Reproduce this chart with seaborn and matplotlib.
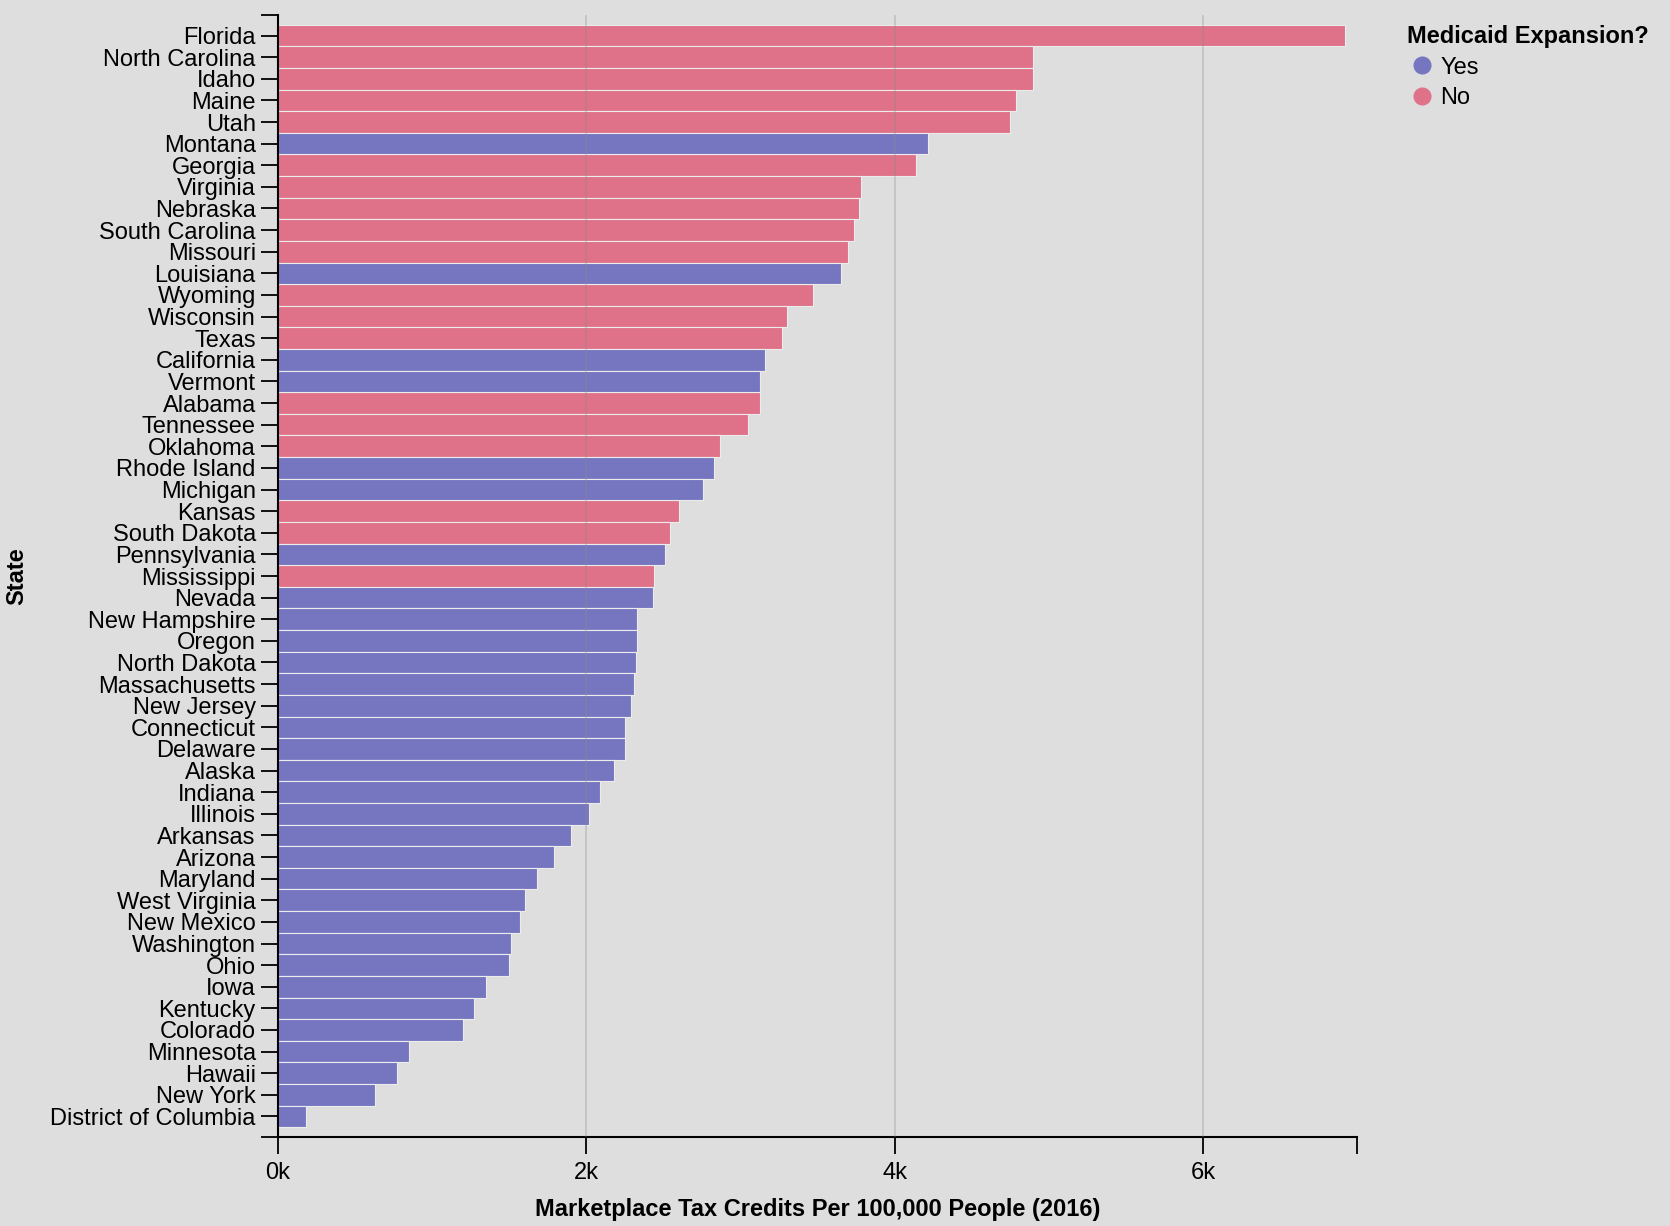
import matplotlib
matplotlib.use('Agg')
import matplotlib.pyplot as plt
import seaborn as sns
import pandas as pd
from matplotlib.lines import Line2D
from matplotlib.ticker import FuncFormatter

# Data
states = ['Florida', 'North Carolina', 'Idaho', 'Maine', 'Utah', 'Montana', 'Georgia',
          'Virginia', 'Nebraska', 'South Carolina', 'Missouri', 'Louisiana', 'Wyoming',
          'Wisconsin', 'Texas', 'California', 'Vermont', 'Alabama', 'Tennessee', 'Oklahoma',
          'Rhode Island', 'Michigan', 'Kansas', 'South Dakota', 'Pennsylvania', 'Mississippi',
          'Nevada', 'New Hampshire', 'Oregon', 'North Dakota', 'Massachusetts', 'New Jersey',
          'Connecticut', 'Delaware', 'Alaska', 'Indiana', 'Illinois', 'Arkansas', 'Arizona',
          'Maryland', 'West Virginia', 'New Mexico', 'Washington', 'Ohio', 'Iowa', 'Kentucky',
          'Colorado', 'Minnesota', 'Hawaii', 'New York', 'District of Columbia']
credits = [6920, 4900, 4900, 4790, 4750, 4220, 4140, 3780, 3770, 3740, 3700, 3650, 3470,
           3300, 3270, 3160, 3130, 3130, 3050, 2870, 2830, 2760, 2600, 2540, 2510, 2440,
           2430, 2330, 2330, 2320, 2310, 2290, 2250, 2250, 2180, 2090, 2020, 1900, 1790,
           1680, 1600, 1570, 1510, 1500, 1350, 1270, 1200, 850, 770, 630, 180]
expansion = ['No', 'No', 'No', 'No', 'No', 'Yes', 'No', 'No', 'No', 'No', 'No', 'Yes', 'No',
             'No', 'No', 'Yes', 'Yes', 'No', 'No', 'No', 'Yes', 'Yes', 'No', 'No', 'Yes', 'No',
             'Yes', 'Yes', 'Yes', 'Yes', 'Yes', 'Yes', 'Yes', 'Yes', 'Yes', 'Yes', 'Yes', 'Yes',
             'Yes', 'Yes', 'Yes', 'Yes', 'Yes', 'Yes', 'Yes', 'Yes', 'Yes', 'Yes', 'Yes', 'Yes',
             'Yes']

df = pd.DataFrame({'State': states, 'Credits': credits, 'Expansion': expansion})

bg = '#dedede'
colors = {'Yes': '#7676c0', 'No': '#df7189'}

sns.set_style('white')
plt.rcParams['font.family'] = ['Liberation Sans', 'DejaVu Sans']
plt.rcParams['text.color'] = 'black'
plt.rcParams['axes.labelcolor'] = 'black'

fig = plt.figure(figsize=(16.7, 12.26), dpi=100, facecolor=bg)
ax = fig.add_axes([278 / 1670, 89 / 1226, (1357 - 278) / 1670, (1137 - 15) / 1226])
ax.set_facecolor(bg)

sns.barplot(data=df, x='Credits', y='State', hue='Expansion', order=states,
            palette=colors, saturation=1, dodge=False, width=1.0, edgecolor='#ececec',
            linewidth=0.8, legend=False, ax=ax)

# vertical grid over the bars
for gx in [2000, 4000, 6000]:
    ax.axvline(gx, color='#8a8a8a', alpha=0.35, lw=1.2, zorder=5)

pad = 0.45
ax.set_xlim(0, 7000)
ax.set_ylim(len(states) - 0.5 + pad, -0.5 - pad)
ax.set_xticks([0, 2000, 4000, 6000])
ax.set_xticks([7000], minor=True)
ax.set_yticks([-0.5 - pad, len(states) - 0.5 + pad], minor=True)
ax.xaxis.set_major_formatter(FuncFormatter(lambda v, p: f'{v / 1000:.0f}k'))

for s in ['top', 'right']:
    ax.spines[s].set_visible(False)
for s in ['left', 'bottom']:
    ax.spines[s].set_color('black')
    ax.spines[s].set_linewidth(1.5)

ax.tick_params(axis='both', which='both', bottom=True, left=True, length=12, width=1.3,
               color='black', labelsize=17, labelcolor='black', pad=4)
ax.tick_params(axis='x', pad=6)

ax.set_xlabel('Marketplace Tax Credits Per 100,000 People (2016)', fontsize=17,
              fontweight='bold', labelpad=10)
ax.set_ylabel('State', fontsize=17, fontweight='bold')
ax.yaxis.set_label_coords(-250 / 1079, 0.5)

handles = [Line2D([0], [0], marker='o', linestyle='', markersize=12,
                  markerfacecolor=colors[k], markeredgecolor=colors[k], label=k)
           for k in ['Yes', 'No']]
leg = ax.legend(handles=handles, title='Medicaid Expansion?', loc='upper left',
                bbox_to_anchor=(1398 / 1670, 1 - 16 / 1226), bbox_transform=fig.transFigure,
                frameon=False, fontsize=17, title_fontproperties={'weight': 'bold', 'size': 17},
                alignment='left', handletextpad=0.2, labelspacing=0.35, borderaxespad=0,
                handlelength=1.2)

fig.savefig('out.png', dpi=100, facecolor=bg)
